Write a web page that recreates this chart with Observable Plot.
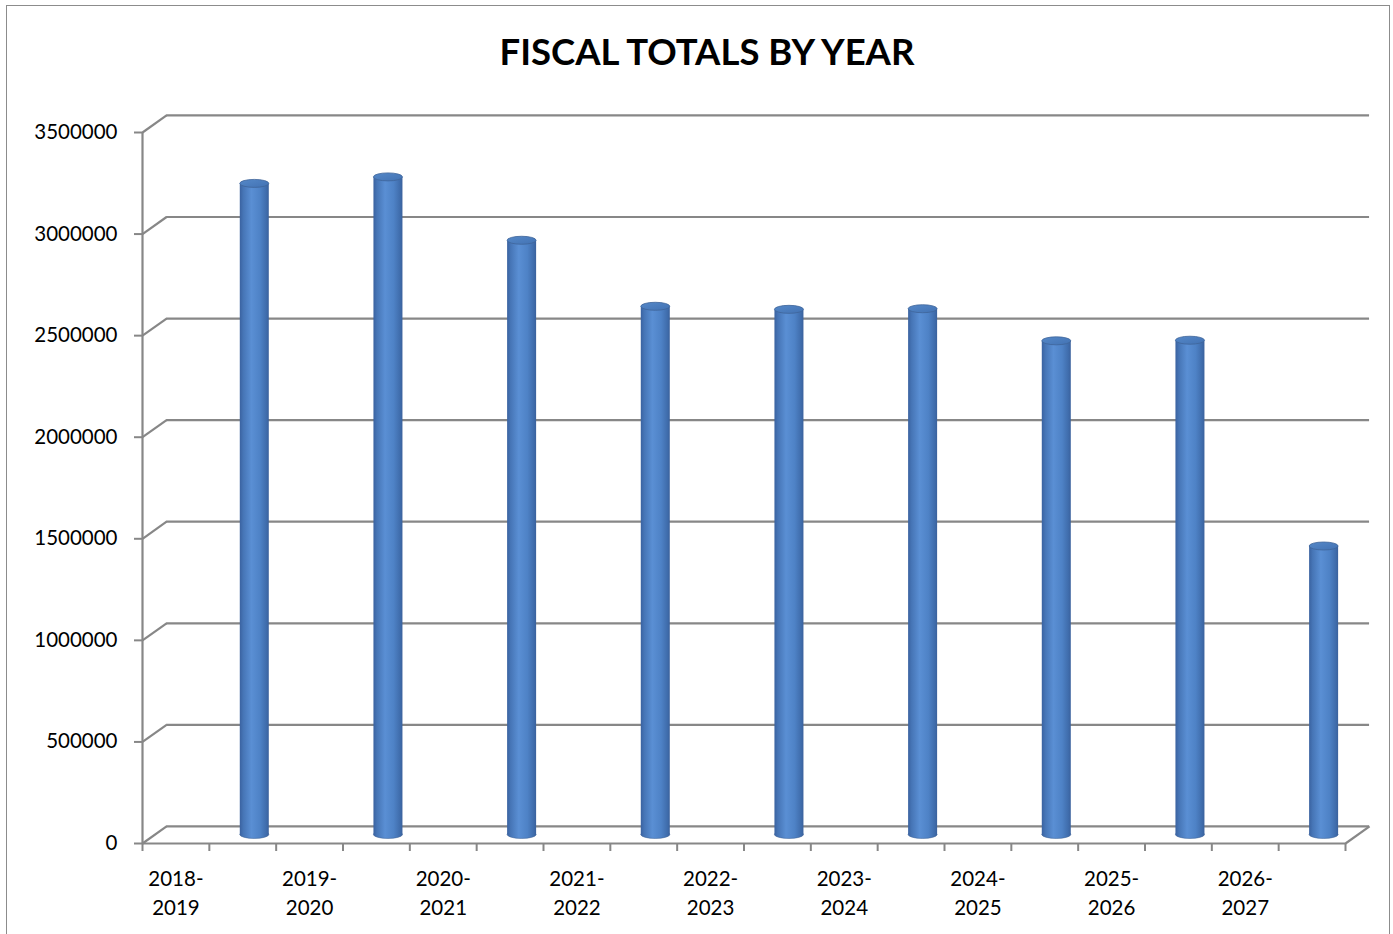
<!DOCTYPE html>
<html>
<head>
<meta charset="utf-8">
<script src="https://cdn.jsdelivr.net/npm/d3@7"></script>
<script src="https://cdn.jsdelivr.net/npm/@observablehq/plot@0.6"></script>
<style>
  html, body { margin: 0; padding: 0; background: #fff; overflow: hidden; }
  #frame { position: absolute; left: 6px; top: 5px; width: 1384px; height: 960px; border: 1.5px solid #8c8c8c; box-sizing: border-box; pointer-events: none; }
  #title { position: absolute; left: 0; top: 0; width: 1414px; height: 90px; text-align: center;
           font-family: Lato, "Open Sans", sans-serif; font-weight: 700; font-size: 36.5px; line-height: 1; padding-top: 33px; box-sizing: border-box; color: #000; }
  #chart { position: absolute; left: 0; top: 90px; }
</style>
</head>
<body>
<div id="title">FISCAL TOTALS BY YEAR</div>
<div id="chart"></div>
<div id="frame"></div>
<script>
// ---- data ----
const years = ["2018-2019", "2019-2020", "2020-2021", "2021-2022", "2022-2023", "2023-2024", "2024-2025", "2025-2026", "2026-2027"];
const totals = [3205000, 3237000, 2925000, 2600000, 2585000, 2588000, 2430000, 2433000, 1420000];
const yTicks = [0, 500000, 1000000, 1500000, 2000000, 2500000, 3000000, 3500000];

// category axis has two slots per year: a label slot followed by a bar slot
const nSlots = years.length * 2;
const data = years.map((y, i) => ({ year: y, value: totals[i], labelSlot: 2 * i + 0.5, barSlot: 2 * i + 1.5 }));

// 3D depth offsets, in data units
const depthX = 0.36;
const depthY = 84000;
const grid = "#878787";

const barW = 29;
const slotPx = (1393 - 142 - 48) / nSlots;
const inset = (slotPx - barW) / 2;

const chart = Plot.plot({
  width: 1393,
  height: 844,
  marginLeft: 142,
  marginRight: 48,
  marginTop: 42,
  marginBottom: 91,
  x: { type: "linear", domain: [0, nSlots], axis: null },
  y: { domain: [0, 3500000], axis: null },
  style: { fontFamily: "Lato, 'Open Sans', sans-serif", fontSize: "20px", color: "#000", background: "transparent", overflow: "visible" },
  marks: [
    // back wall gridlines
    Plot.ruleY(yTicks, { y: d => d + depthY, x1: depthX, x2: nSlots + depthX, stroke: grid, strokeWidth: 2.2 }),
    // side wall diagonals
    Plot.link(yTicks, { x1: 0, y1: d => d, x2: depthX, y2: d => d + depthY, stroke: grid, strokeWidth: 2.2 }),
    // front vertical axis
    Plot.ruleX([0], { y1: 0, y2: 3500000, stroke: grid, strokeWidth: 2.2 }),
    // floor front edge and right edge
    Plot.ruleY([0], { x1: 0, x2: nSlots, stroke: grid, strokeWidth: 2.2 }),
    Plot.link([0], { x1: nSlots, y1: 0, x2: nSlots + depthX, y2: depthY, stroke: grid, strokeWidth: 2.2 }),
    // axes
    Plot.axisY({ ticks: yTicks, tickFormat: d3.format("d"), tickSize: 8, tickPadding: 17, label: null, stroke: grid, strokeWidth: 2, fill: "#000", fontSize: 20.5 }),
    Plot.axisX({ ticks: d3.range(0, nSlots + 1), tickFormat: () => "", tickSize: 8, label: null, stroke: grid, strokeWidth: 2 }),
    Plot.text(data, { x: "labelSlot", y: 0, text: d => d.year.replace("-", "-\n"), lineAnchor: "top", dy: 22, lineHeight: 1.4, fill: "#000", fontSize: 20.5 }),
    // cylinders: bottom cap, body, top cap
    Plot.rect(data, { x1: d => d.barSlot - 0.5 + depthX / 2, x2: d => d.barSlot + 0.5 + depthX / 2, y1: depthY / 2, y2: depthY / 2,
      insetLeft: inset, insetRight: inset, insetTop: -4, insetBottom: -4, rx: barW / 2, ry: 4, fill: "url(#cyl)", stroke: "#41679b", strokeWidth: 0.6 }),
    Plot.rect(data, { x1: d => d.barSlot - 0.5 + depthX / 2, x2: d => d.barSlot + 0.5 + depthX / 2, y1: depthY / 2, y2: d => d.value + depthY / 2,
      insetLeft: inset, insetRight: inset, fill: "url(#cyl)" }),
    Plot.rect(data, { x1: d => d.barSlot - 0.5 + depthX / 2, x2: d => d.barSlot + 0.5 + depthX / 2, y1: d => d.value + depthY / 2, y2: d => d.value + depthY / 2,
      insetLeft: inset, insetRight: inset, insetTop: -4, insetBottom: -4, rx: barW / 2, ry: 4, fill: "url(#cap)", stroke: "#3f6499", strokeWidth: 0.8 })
  ]
});

// gradients for the cylinder shading
const ns = "http://www.w3.org/2000/svg";
const defs = document.createElementNS(ns, "defs");
defs.innerHTML = `
  <linearGradient id="cyl" x1="0" x2="1" y1="0" y2="0">
    <stop offset="0" stop-color="#3a62a0"/>
    <stop offset="0.12" stop-color="#4675b6"/>
    <stop offset="0.4" stop-color="#5a8fd4"/>
    <stop offset="0.7" stop-color="#4e82c6"/>
    <stop offset="0.92" stop-color="#3f6cab"/>
    <stop offset="1" stop-color="#3a619c"/>
  </linearGradient>
  <linearGradient id="cap" x1="0" x2="1" y1="0" y2="1">
    <stop offset="0" stop-color="#5588c8"/>
    <stop offset="1" stop-color="#4272b3"/>
  </linearGradient>`;
chart.insertBefore(defs, chart.firstChild);
document.getElementById("chart").appendChild(chart);
</script>
</body>
</html>
